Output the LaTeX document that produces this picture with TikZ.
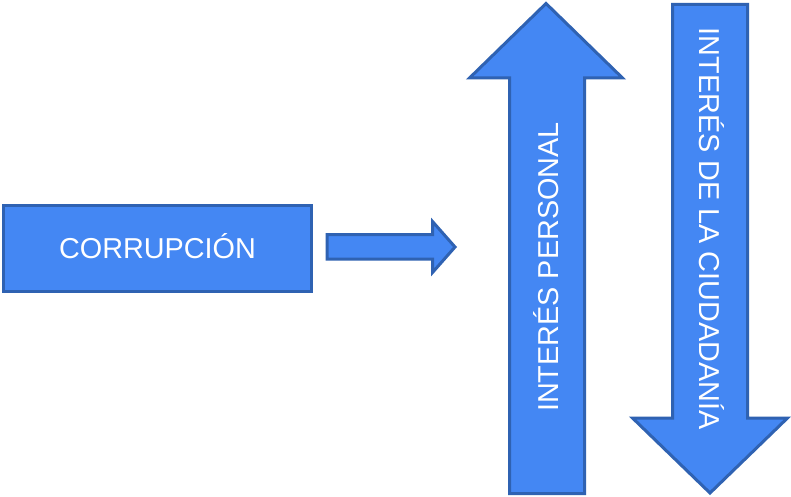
\documentclass[tikz,border=0pt]{standalone}
\usepackage{fontspec}
\setmainfont{Liberation Sans}
\begin{document}
\begin{tikzpicture}[x=1pt,y=-1pt,
  shapefill/.style={fill=boxblue,draw=edgeblue,line width=3pt,line join=miter},
  lbl/.style={text=white,font=\fontsize{28.8}{30}\selectfont,inner sep=0pt,anchor=base}]
\definecolor{boxblue}{HTML}{4487F3}
\definecolor{edgeblue}{HTML}{2F62B2}
\useasboundingbox (0,0) rectangle (791,497);
\fill[white] (0,0) rectangle (791,497);
% box
\draw[shapefill] (3.5,205.5) rectangle (311.5,291);
\node[lbl] (corr) at (157.5,258) {CORRUPCIÓN};
% small arrow
\draw[shapefill] (327,234.5) -- (432.5,234.5) -- (432.5,221.5) -- (455,247) -- (432.5,272.5) -- (432.5,259) -- (327,259) -- cycle;
% up arrow
\draw[shapefill] (546,3.5) -- (622.5,78) -- (584.5,78) -- (584.5,493.5) -- (509.5,493.5) -- (509.5,78) -- (469.5,78) -- cycle;
\node[lbl,rotate=90] (pers) at (558,267) {INTERÉS PERSONAL};
% down arrow
\draw[shapefill] (672.5,4.5) -- (747.5,4.5) -- (747.5,418) -- (787.5,418) -- (710,493) -- (632.5,418) -- (672.5,418) -- cycle;
\node[lbl,rotate=-90] (ciud) at (699,228.5) {INTERÉS DE LA CIUDADANÍA};
\end{tikzpicture}
\end{document}
